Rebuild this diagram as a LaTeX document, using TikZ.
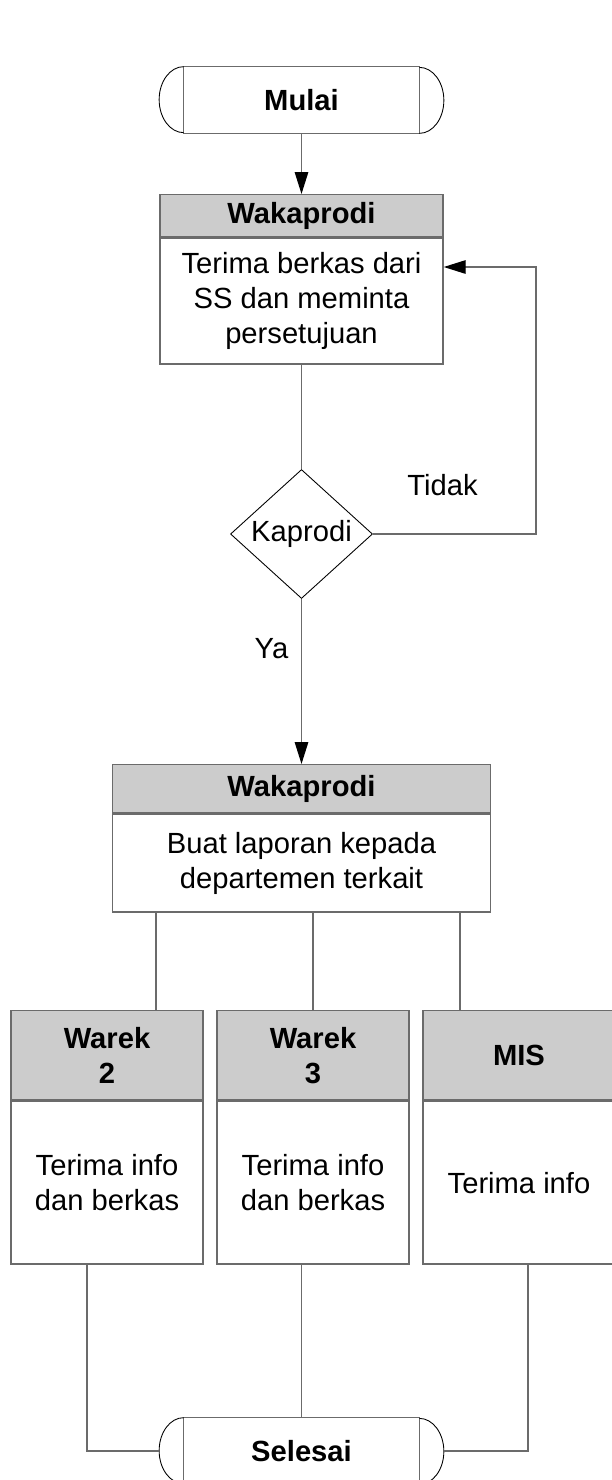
\documentclass[tikz,border=0pt]{standalone}
\usepackage{fontspec}
\setmainfont{Liberation Sans}
\usetikzlibrary{positioning}
\usetikzlibrary{arrows.meta}
\usetikzlibrary{shapes.geometric}
\colorlet{edgec}{black!58}
\colorlet{headc}{black!20}
\newcommand{\flowfont}{\fontsize{16.6}{19.9}\selectfont}
\tikzset{
  headbox/.style={draw=edgec, line width=0.8pt, fill=headc, shape=rectangle, inner sep=0pt, align=center, font=\flowfont\bfseries},
  bodybox/.style={draw=edgec, line width=0.8pt, fill=white, shape=rectangle, inner sep=0pt, align=center, font=\flowfont},
  termbox/.style={shape=rectangle, inner sep=0pt, minimum width=5.68cm, minimum height=1.32cm, font=\flowfont\bfseries},
  decision/.style={draw=black, line width=0.5pt, shape=diamond, inner sep=0pt, minimum width=2.84cm, minimum height=2.58cm, font=\flowfont},
  lbl/.style={inner sep=0pt, font=\flowfont},
  flow/.style={draw=edgec, line width=0.8pt},
  flowarrow/.style={flow, -{Triangle[length=0.44cm, width=0.27cm, color=black]}}
}

\begin{document}
\begin{tikzpicture}
\useasboundingbox (0cm,0cm) rectangle (12.24cm,-29.6cm);

% start
\node[termbox] (mulai) at (6.03cm,-2.0cm) {Mulai};
\draw[flow] ([xshift=0.49cm]mulai.north west) rectangle ([xshift=-0.49cm]mulai.south east);
\draw[line width=0.5pt] ([xshift=0.49cm]mulai.north west) arc[start angle=90, end angle=270, x radius=0.49cm, y radius=0.66cm];
\draw[line width=0.5pt] ([xshift=-0.49cm]mulai.south east) arc[start angle=-90, end angle=90, x radius=0.49cm, y radius=0.66cm];

% first Wakaprodi
\node[headbox, anchor=north, minimum width=5.66cm, minimum height=0.84cm]
(wak1h) at (6.03cm,-3.88cm) {Wakaprodi};
\node[bodybox, below=0cm of wak1h, minimum width=5.66cm, minimum height=2.52cm]
(wak1) {Terima berkas dari\\SS dan meminta\\persetujuan};

% decision
\node[decision] (kap) at (6.03cm,-10.68cm) {Kaprodi};
\node[lbl] (tidak) at (8.85cm,-9.70cm) {Tidak};
\node[lbl] (ya) at (5.43cm,-12.98cm) {Ya};
\coordinate (back) at (10.72cm,-5.34cm);

% second Wakaprodi
\node[headbox, anchor=north, minimum width=7.56cm, minimum height=0.96cm]
(wak2h) at (6.03cm,-15.28cm) {Wakaprodi};
\node[bodybox, below=0cm of wak2h, minimum width=7.56cm, minimum height=1.96cm]
(wak2) {Buat laporan kepada\\departemen terkait};

% receivers
\node[headbox, anchor=north, minimum width=3.84cm, minimum height=1.78cm]
(war2h) at (2.14cm,-20.2cm) {Warek\\2};
\node[bodybox, below=0cm of war2h, minimum width=3.84cm, minimum height=3.26cm]
(war2) {Terima info\\dan berkas};
\node[headbox, anchor=north, minimum width=3.84cm, minimum height=1.78cm]
(war3h) at (6.26cm,-20.2cm) {Warek\\3};
\node[bodybox, below=0cm of war3h, minimum width=3.84cm, minimum height=3.26cm]
(war3) {Terima info\\dan berkas};
\node[headbox, anchor=north, minimum width=3.84cm, minimum height=1.78cm]
(mish) at (10.38cm,-20.2cm) {MIS};
\node[bodybox, below=0cm of mish, minimum width=3.84cm, minimum height=3.26cm]
(mis) {Terima info};

% end
\node[termbox] (selesai) at (6.03cm,-29.02cm) {Selesai};
\draw[flow] ([xshift=0.49cm]selesai.north west) rectangle ([xshift=-0.49cm]selesai.south east);
\draw[line width=0.5pt] ([xshift=0.49cm]selesai.north west) arc[start angle=90, end angle=270, x radius=0.49cm, y radius=0.66cm];
\draw[line width=0.5pt] ([xshift=-0.49cm]selesai.south east) arc[start angle=-90, end angle=90, x radius=0.49cm, y radius=0.66cm];

% connectors
\draw[flowarrow] (mulai.south) -- (wak1h.north);
\draw[flow] (wak1.south) -- (kap.north);
\draw[flowarrow] (kap.east) -| (back) -- (back -| wak1.east);
\draw[flowarrow] (kap.south) -- (wak2h.north);

\coordinate (ja) at ([xshift=0.88cm]wak2.south west);
\coordinate (jc) at ([xshift=-1.18cm]mish.north);
\draw[flow] (ja) -- (ja |- war2h.north);
\draw[flow] (wak2.south -| war3h.north) -- (war3h.north);
\draw[flow] (jc |- wak2.south) -- (jc);

\draw[flow] ([xshift=-0.40cm]war2.south) |- (selesai.west);
\draw[flow] (selesai.north |- war3.south) -- (selesai.north);
\draw[flow] ([xshift=0.18cm]mis.south) |- (selesai.east);

\end{tikzpicture}
\end{document}
